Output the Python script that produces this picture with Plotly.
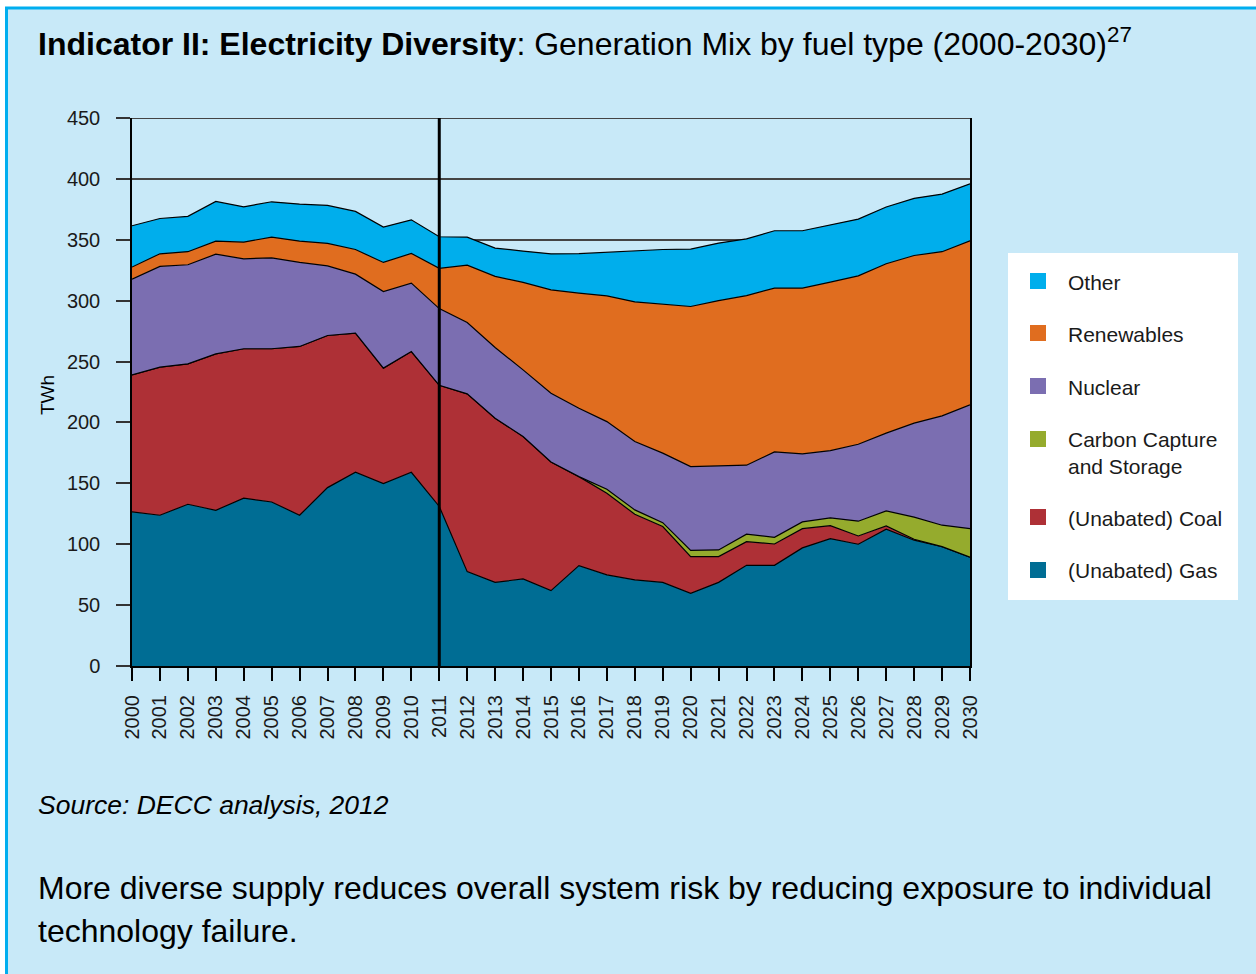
import plotly.graph_objects as go

# UK electricity generation by fuel type, TWh (outturn to 2011, projection after)
years = list(range(2000, 2031))

gas = [126.5, 123.8, 132.8, 127.9, 137.8, 134.7, 123.8, 146.5, 159.1, 149.8,
       159.1, 131.0, 77.5, 68.7, 71.5, 61.9, 82.4, 74.8, 70.7, 68.7,
       59.7, 68.7, 82.7, 82.7, 97.0, 104.6, 100.0, 112.3, 103.3, 98.0, 89.3]
coal = [112.6, 121.6, 115.3, 128.4, 122.7, 125.8, 138.6, 124.9, 114.2, 94.8,
        99.1, 99.5, 146.0, 134.8, 116.9, 105.6, 73.1, 67.1, 53.9, 45.8,
        30.1, 21.1, 19.4, 17.5, 15.8, 10.7, 6.8, 2.7, 0.8, 0.0, 0.0]
ccs = [0, 0, 0, 0, 0, 0, 0, 0, 0, 0,
       0, 0, 0, 0, 0, 0, 0, 3.3, 3.6, 3.2,
       5.2, 5.5, 6.1, 5.5, 5.5, 6.3, 12.1, 12.4, 18.1, 17.6, 23.5]
nuclear = [78.6, 82.7, 81.4, 81.9, 73.9, 74.7, 69.0, 57.2, 48.5, 62.9,
           56.2, 63.0, 58.6, 58.0, 54.8, 56.5, 56.2, 55.5, 56.1, 57.1,
           68.8, 69.3, 56.7, 70.1, 55.9, 55.3, 63.2, 63.8, 77.2, 89.8, 101.6]
renewables = [9.9, 10.4, 10.7, 10.7, 13.7, 17.0, 17.5, 18.4, 20.2, 23.9,
              24.4, 33.0, 47.1, 58.5, 71.8, 84.9, 94.5, 103.3, 114.7, 122.6,
              131.4, 135.5, 139.3, 134.5, 136.1, 138.3, 138.3, 139.1, 137.7, 134.8, 134.8]
other = [33.9, 29.0, 29.0, 32.6, 29.0, 29.0, 30.4, 31.2, 31.3, 29.0,
         27.6, 26.0, 23.0, 23.2, 25.7, 29.6, 32.4, 35.9, 42.2, 44.6,
         47.1, 47.2, 46.6, 47.1, 47.1, 47.1, 46.6, 46.6, 46.9, 47.3, 46.8]

series = [
    ("(Unabated) Gas", gas, "#006D94"),
    ("(Unabated) Coal", coal, "#AE3036"),
    ("Carbon Capture<br>and Storage", ccs, "#95AB2D"),
    ("Nuclear", nuclear, "#7B6EB1"),
    ("Renewables", renewables, "#E06D1F"),
    ("Other", other, "#00AEEC"),
]

W, H = 1256, 974
ML, MR, MT, MB = 132, 286, 118, 308
PW = W - ML - MR
PH = H - MT - MB
FONT = "Liberation Sans, Arial, sans-serif"


def px(x):
    return (x - ML) / PW


def py(y):
    return (H - MB - y) / PH


fig = go.Figure()
for name, vals, col in series:
    fig.add_trace(go.Scatter(
        x=years, y=vals, name=name.replace("<br>", " "), stackgroup="mix",
        mode="lines", line=dict(color="black", width=1.2),
        fillcolor=col, showlegend=False,
    ))

shapes = [
    # panel background and border
    dict(type="rect", xref="paper", yref="paper", layer="below",
         x0=px(6.5), x1=px(W + 20), y0=py(H + 20), y1=py(8),
         fillcolor="#C8E9F8", line=dict(color="#00AEEF", width=3)),
    # top frame line at 450
    dict(type="line", xref="x", yref="y", x0=2000, x1=2030, y0=450, y1=450,
         line=dict(color="#444444", width=2)),
    # divider between outturn and projection
    dict(type="line", xref="x", yref="y", x0=2011, x1=2011, y0=0, y1=450,
         line=dict(color="black", width=3)),
    # legend box
    dict(type="rect", xref="paper", yref="paper",
         x0=px(1008), x1=px(1238), y0=py(600), y1=py(253),
         fillcolor="white", line=dict(width=0)),
]

annotations = []
legend_rows = [
    ("Other", "#00AEEC", 281, 282),
    ("Renewables", "#E06D1F", 333, 334),
    ("Nuclear", "#7B6EB1", 386, 387),
    ("Carbon Capture<br>and Storage", "#95AB2D", 439, 453),
    ("(Unabated) Coal", "#AE3036", 517, 518),
    ("(Unabated) Gas", "#006D94", 570, 570),
]
for label, col, sq_y, txt_y in legend_rows:
    shapes.append(dict(type="rect", xref="paper", yref="paper",
                       x0=px(1030), x1=px(1046), y0=py(sq_y + 8), y1=py(sq_y - 8),
                       fillcolor=col, line=dict(width=0)))
    annotations.append(dict(xref="paper", yref="paper", x=px(1066), y=py(txt_y),
                            xanchor="left", yanchor="middle", align="left",
                            text=label, showarrow=False,
                            font=dict(family=FONT, size=21, color="#1a1a1a")))

annotations += [
    dict(xref="paper", yref="paper", x=px(36), y=py(42), xanchor="left", yanchor="middle",
         text="<b>Indicator II: Electricity Diversity</b>: Generation Mix by fuel type (2000-2030)<sup>27</sup>",
         showarrow=False, font=dict(family=FONT, size=32, color="black")),
    dict(xref="paper", yref="paper", x=px(47), y=py(395), xanchor="center", yanchor="middle",
         text="TWh", textangle=-90, showarrow=False,
         font=dict(family=FONT, size=19, color="black")),
    dict(xref="paper", yref="paper", x=px(36), y=py(805), xanchor="left", yanchor="middle",
         text="<i>Source: DECC analysis, 2012</i>", showarrow=False,
         font=dict(family=FONT, size=26.5, color="black")),
    dict(xref="paper", yref="paper", x=px(36), y=py(888), xanchor="left", yanchor="middle",
         text="More diverse supply reduces overall system risk by reducing exposure to individual",
         showarrow=False, font=dict(family=FONT, size=32, color="black")),
    dict(xref="paper", yref="paper", x=px(36), y=py(931), xanchor="left", yanchor="middle",
         text="technology failure.", showarrow=False,
         font=dict(family=FONT, size=32, color="black")),
]

fig.update_layout(
    width=W, height=H,
    margin=dict(l=ML, r=MR, t=MT, b=MB, pad=0),
    paper_bgcolor="white", plot_bgcolor="white",
    shapes=shapes, annotations=annotations,
    showlegend=False,
    xaxis=dict(range=[2000, 2030], tickvals=years, tickangle=-90,
               ticks="outside", ticklen=13, tickwidth=1.5, tickcolor="black",
               showline=True, linecolor="black", linewidth=2,
               showgrid=False, zeroline=False, ticklabelstandoff=6,
               tickfont=dict(family=FONT, size=20, color="#1a1a1a")),
    yaxis=dict(range=[0, 450], dtick=50, ticks="outside", ticklen=14,
               tickwidth=1.5, tickcolor="#333", showline=True, mirror=True,
               linecolor="black", linewidth=1.5, showgrid=True,
               gridcolor="#444444", gridwidth=2, zeroline=False,
               ticklabelstandoff=12,
               tickfont=dict(family=FONT, size=20, color="#1a1a1a")),
)

fig.write_html("out.html")
